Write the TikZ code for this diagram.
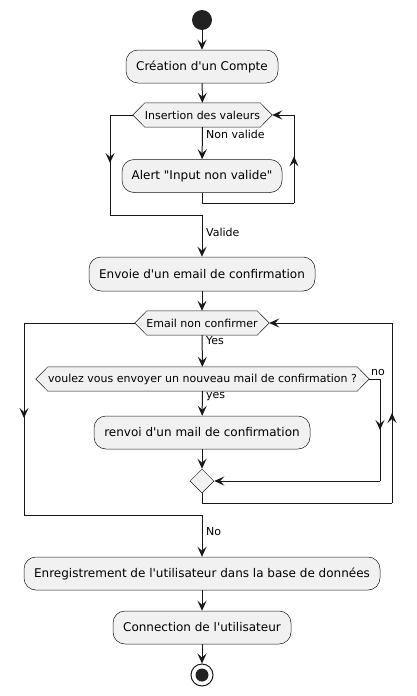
\documentclass[tikz,border=0pt]{standalone}
\usepackage{fontspec}
\newfontfamily\djv{DejaVu Sans}
\usetikzlibrary{arrows.meta,shapes.geometric,backgrounds,decorations.markings}
\definecolor{lc}{HTML}{181818}
\definecolor{bf}{HTML}{F1F1F1}
\definecolor{dk}{HTML}{222222}
\newcommand\hexframe[1]{\draw[line width=0.5pt, draw=lc, fill=bf] (#1.west) -- ([xshift=12pt]#1.north west) -- ([xshift=-12pt]#1.north east) -- (#1.east) -- ([xshift=-12pt]#1.south east) -- ([xshift=12pt]#1.south west) -- cycle;}
\begin{document}
\begin{tikzpicture}[x=1pt,y=-1pt,
  tip/.tip={Stealth[length=10pt,width=9pt,inset=4pt]},
  arr/.style={-tip, draw=lc, line width=1pt},
  ln/.style={draw=lc, line width=1pt},
  midarrow/.style={ln, postaction=decorate, decoration={markings, mark=at position #1 with {\arrow{tip}}}},
  act/.style={draw=lc, line width=0.5pt, fill=bf, rounded corners=12pt, font=\djv\fontsize{12}{14}\selectfont, minimum height=33pt, inner sep=0pt},
  dec/.style={font=\djv\fontsize{11}{13}\selectfont, minimum height=24pt, inner sep=0pt},
  lab/.style={font=\djv\fontsize{11}{13}\selectfont, anchor=west, inner sep=0pt},
]
\useasboundingbox (0,0) rectangle (417,696);

\node[circle, fill=dk, minimum size=20pt, inner sep=0pt] (start) at (202,20) {};
\node[act, minimum width=152pt] (b1) at (202,66.5) {Création d'un Compte};
\node[dec, minimum width=139pt] (h1) at (202.5,115) {Insertion des valeurs};
\node[act, minimum width=160pt] (b2) at (202,176) {Alert "Input non valide"};
\node[act, minimum width=226pt, minimum height=34pt] (b3) at (202,274) {Envoie d'un email de confirmation};
\node[dec, minimum width=134pt] (h2) at (202,323) {Email non confirmer};
\node[dec, minimum width=333pt] (h3) at (202.5,379) {voulez vous envoyer un nouveau mail de confirmation ?};
\node[act, minimum width=216pt] (b4) at (202,432.5) {renvoi d'un mail de confirmation};
\node[diamond, aspect=1, minimum width=24pt, minimum height=24pt, inner sep=0pt, draw=lc, line width=0.5pt, fill=bf] (m) at (202,481) {};
\node[act, minimum width=356pt] (b5) at (202,573.5) {Enregistrement de l'utilisateur dans la base de données};
\node[act, minimum width=178pt] (b6) at (202,627.5) {Connection de l'utilisateur};
\node[circle, draw=lc, line width=1pt, fill=white, minimum size=22pt, inner sep=0pt] (end) at (202,675) {};
\fill[dk] (end.center) circle (6.5pt);

\begin{scope}[on background layer]
\fill[white] (0,0) rectangle (417,696);
\hexframe{h1}
\hexframe{h2}
\hexframe{h3}
\end{scope}

% coordinates
\coordinate (r1) at (294,203);
\coordinate (r1t) at (294,115);
\coordinate (l1) at (110,115);
\coordinate (l1b) at (110,215);
\coordinate (j1) at (202,215);
\coordinate (n1) at (380,379);
\coordinate (n1b) at (380,481);
\coordinate (k1) at (202,503);
\coordinate (k2) at (392,503);
\coordinate (k2t) at (392,323);
\coordinate (e1) at (24,323);
\coordinate (e1b) at (24,515);
\coordinate (j2) at (202,515);

\draw[arr] (start) -- (b1);
\draw[arr] (b1) -- (h1);
\draw[arr] (h1) -- (b2);
\node[lab] (lnv) at (206,134) {Non valide};
\draw[ln] (b2.south) |- (r1);
\draw[midarrow=0.53] (r1) -- (r1t);
\draw[arr] (r1t) -- (h1.east);
\draw[ln] (h1.west) -- (l1);
\draw[midarrow=0.48] (l1) -- (l1b);
\draw[ln] (l1b) -- (j1);
\draw[arr] (j1) -- (b3);
\node[lab] (lv) at (206,232) {Valide};

\draw[arr] (b3) -- (h2);
\draw[arr] (h2) -- (h3);
\node[lab] (lyes1) at (206,341) {Yes};
\draw[arr] (h3) -- (b4);
\node[lab] (lyes2) at (206,397) {yes};
\draw[arr] (b4) -- (m);
\draw[ln] (h3.east) -- (n1);
\node[lab] (lno1) at (371,372) {no};
\draw[midarrow=0.5] (n1) -- (n1b);
\draw[arr] (n1b) -- (m.east);
\draw[ln] (m.south) -- (k1) -- (k2);
\draw[midarrow=0.5] (k2) -- (k2t);
\draw[arr] (k2t) -- (h2.east);
\draw[ln] (h2.west) -- (e1);
\draw[midarrow=0.495] (e1) -- (e1b);
\draw[ln] (e1b) -- (j2);
\draw[arr] (j2) -- (b5);
\node[lab] (lno2) at (206,532) {No};
\draw[arr] (b5) -- (b6);
\draw[arr] (b6) -- (end);
\end{tikzpicture}
\end{document}
